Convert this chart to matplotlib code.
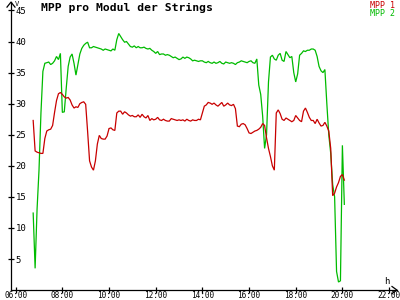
import matplotlib
matplotlib.use("Agg")
import matplotlib.pyplot as plt

times = [
    "06:45", "06:50", "06:55",
    "07:00", "07:05", "07:10", "07:15", "07:20", "07:25", "07:30", "07:35", "07:40", "07:45", "07:50", "07:55",
    "08:00", "08:05", "08:10", "08:15", "08:20", "08:25", "08:30", "08:35", "08:40", "08:45", "08:50", "08:55",
    "09:00", "09:05", "09:10", "09:15", "09:20", "09:25", "09:30", "09:35", "09:40", "09:45", "09:50", "09:55",
    "10:00", "10:05", "10:10", "10:15", "10:20", "10:25", "10:30", "10:35", "10:40", "10:45", "10:50", "10:55",
    "11:00", "11:05", "11:10", "11:15", "11:20", "11:25", "11:30", "11:35", "11:40", "11:45", "11:50", "11:55",
    "12:00", "12:05", "12:10", "12:15", "12:20", "12:25", "12:30", "12:35", "12:40", "12:45", "12:50", "12:55",
    "13:00", "13:05", "13:10", "13:15", "13:20", "13:25", "13:30", "13:35", "13:40", "13:45", "13:50", "13:55",
    "14:00", "14:05", "14:10", "14:15", "14:20", "14:25", "14:30", "14:35", "14:40", "14:45", "14:50", "14:55",
    "15:00", "15:05", "15:10", "15:15", "15:20", "15:25", "15:30", "15:35", "15:40", "15:45", "15:50", "15:55",
    "16:00", "16:05", "16:10", "16:15", "16:20", "16:25", "16:30", "16:35", "16:40", "16:45", "16:50", "16:55",
    "17:00", "17:05", "17:10", "17:15", "17:20", "17:25", "17:30", "17:35", "17:40", "17:45", "17:50", "17:55",
    "18:00", "18:05", "18:10", "18:15", "18:20", "18:25", "18:30", "18:35", "18:40", "18:45", "18:50", "18:55",
    "19:00", "19:05", "19:10", "19:15", "19:20", "19:25", "19:30", "19:35", "19:40", "19:45", "19:50", "19:55",
    "20:00", "20:05",
]

mpp1 = [
    27.3, 22.4, 22.2, 22.1, 22.0, 22.0, 24.4, 25.6, 25.8, 25.9,
    26.5, 28.6, 30.5, 31.6, 31.8, 31.5, 31.1, 30.9, 31.0, 30.6,
    29.8, 29.3, 29.5, 29.4, 30.0, 30.2, 30.3, 29.9, 25.5, 20.8,
    19.8, 19.3, 20.8, 23.5, 24.9, 24.4, 24.3, 24.3, 24.8, 26.0,
    26.1, 25.8, 25.7, 28.5, 28.8, 28.8, 28.3, 28.7, 28.5, 28.2,
    28.0, 28.1, 27.9, 27.9, 28.2, 27.8, 28.3, 27.9, 27.7, 28.1,
    27.3, 27.6, 27.4, 27.5, 27.8, 27.4, 27.3, 27.5, 27.3, 27.2,
    27.2, 27.6, 27.5, 27.4, 27.3, 27.4, 27.3, 27.4, 27.2, 27.5,
    27.3, 27.2, 27.4, 27.3, 27.3, 27.5, 27.4, 28.5, 29.6, 29.8,
    30.2, 30.1, 29.9, 30.1, 29.8, 29.6, 29.9, 30.2, 29.6, 29.8,
    30.1, 29.8, 29.7, 29.9, 29.2, 26.4, 26.3, 26.7, 26.8, 26.6,
    26.0, 25.3, 25.2, 25.4, 25.6, 25.7, 25.9, 26.2, 26.8, 26.5,
    24.5, 22.8, 21.5, 20.0, 19.3, 28.5, 29.0, 28.4, 27.5, 27.3,
    27.7, 27.5, 27.3, 27.1, 27.3, 28.1, 27.7, 27.3, 27.1, 28.8,
    29.3, 28.6, 27.8, 27.3, 27.3, 26.8, 27.5, 26.9, 26.4, 26.5,
    27.0, 26.4, 25.6, 22.8, 15.2, 15.6, 16.6, 17.3, 18.3, 18.6, 17.7,
]

mpp2 = [
    12.4, 3.5, 13.0, 19.3, 28.5, 35.2, 36.5, 36.6, 36.7, 36.3,
    36.5, 36.9, 37.6, 37.1, 38.1, 28.6, 28.7, 32.5, 36.0, 37.5,
    38.0, 36.5, 34.6, 36.3, 38.0, 38.9, 39.4, 39.7, 39.9, 39.0,
    39.0, 39.2, 39.1, 39.0, 38.9, 38.8, 38.6, 38.8, 38.7, 38.6,
    38.5, 38.8, 38.6, 40.3, 41.3, 40.8, 40.3, 39.9, 40.0, 39.6,
    39.2, 39.1, 39.3, 39.0, 39.2, 39.0, 39.0, 39.1, 38.9, 38.8,
    38.9, 38.6, 38.4, 38.1, 38.4, 37.9, 38.0, 38.0, 37.8, 37.9,
    37.8, 37.6, 37.4, 37.5, 37.3, 37.1, 37.2, 37.5, 37.3, 37.5,
    37.4, 37.2, 36.9, 37.0, 36.9, 36.8, 36.9, 36.9, 36.7, 36.6,
    36.8, 36.6, 36.5, 36.7, 36.5, 36.6, 36.8, 36.5, 36.4, 36.7,
    36.6, 36.5, 36.6, 36.5, 36.3, 36.6, 36.7, 36.9, 36.8, 36.7,
    36.6, 36.8, 36.9, 36.6, 36.5, 37.2, 33.0, 31.5, 28.0, 22.8,
    25.0, 33.5, 37.5, 37.8, 37.2, 37.0, 37.8, 38.1, 37.0, 36.8,
    38.4, 37.9, 37.4, 37.6, 35.0, 33.5, 34.8, 37.8, 38.1, 38.5,
    38.4, 38.6, 38.6, 38.8, 38.8, 38.6, 37.6, 36.0, 35.3, 35.0,
    35.5, 30.0, 25.0, 22.0, 17.0, 15.0, 3.0, 1.3, 1.5, 23.3, 13.8,
]

xtick_hours = [6, 8, 10, 12, 14, 16, 18, 20, 22]
xtick_labels = ["06:00", "08:00", "10:00", "12:00", "14:00", "16:00", "18:00", "20:00", "22:00"]
ytick_values = [5, 10, 15, 20, 25, 30, 35, 40, 45]

title = "MPP pro Modul der Strings"
series_names = ["MPP 1", "MPP 2"]
red = "#c80000"
green = "#00bb00"

hours = [int(t[:2]) + int(t[3:]) / 60.0 for t in times]

mono = "DejaVu Sans Mono"
fig = plt.figure(figsize=(4, 3), dpi=100, facecolor="white")
ax = fig.add_axes([11 / 400, 9.9 / 300, 386 / 400, 288 / 300])
ax.set_facecolor("white")

ax.plot(hours, mpp2, color=green, lw=0.9, solid_joinstyle="miter")
ax.plot(hours, mpp1, color=red, lw=0.9, solid_joinstyle="miter")

ax.set_xlim(5.80, 22.34)
ax.set_ylim(0, 46.35)

for s in ["top", "right"]:
    ax.spines[s].set_visible(False)
for s in ["left", "bottom"]:
    ax.spines[s].set_color("black")
    ax.spines[s].set_linewidth(0.9)

ax.set_xticks(xtick_hours)
ax.set_xticklabels(xtick_labels, fontfamily=mono, fontsize=5.6)
ax.set_yticks(ytick_values)
ax.set_yticklabels([str(v) for v in ytick_values], fontfamily=mono, fontsize=6.5)
ax.tick_params(axis="x", direction="inout", length=5, width=0.9, pad=-1.8)
ax.tick_params(axis="y", direction="inout", length=4.5, width=0.9, pad=-5.4)
for lab in ax.get_yticklabels():
    lab.set_horizontalalignment("left")

# arrow heads at the ends of the axes
dx = 5 / 386
dy = 4 / 288
ax.plot([1 - dx, 1, 1 - dx], [dy * 0.9, 0, -dy * 0.9], transform=ax.transAxes,
        color="black", lw=0.9, clip_on=False)
ax.plot([-4 / 386, 0, 4 / 386], [1 - 5 / 288, 1, 1 - 5 / 288], transform=ax.transAxes,
        color="black", lw=0.9, clip_on=False)

fig.text(15 / 400, 1 - 4 / 300, "V", fontfamily=mono, fontsize=5, ha="left", va="center")
fig.text(387 / 400, 1 - 281 / 300, "h", fontfamily=mono, fontsize=6.5, ha="center", va="center")

fig.text(127 / 400, 1 - 8 / 300, title, fontfamily=mono, fontweight="bold", fontsize=8.2,
         ha="center", va="center")
fig.text(395 / 400, 1 - 5.5 / 300, series_names[0], color=red, fontfamily=mono, fontsize=6,
         ha="right", va="center")
fig.text(395 / 400, 1 - 13 / 300, series_names[1], color=green, fontfamily=mono, fontsize=6,
         ha="right", va="center")

fig.savefig("out.png", dpi=100, facecolor="white")
